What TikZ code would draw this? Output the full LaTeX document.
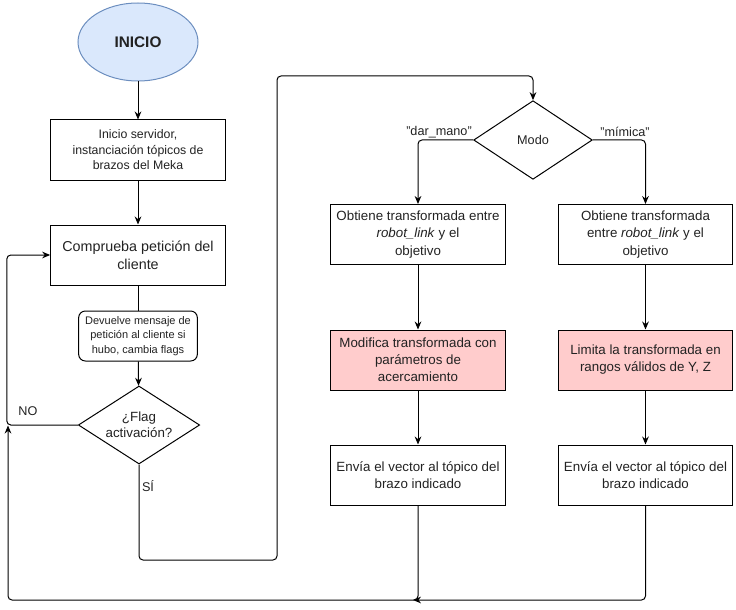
\documentclass[tikz,border=0pt]{standalone}
\usepackage{fontspec}
\setmainfont{Liberation Sans}
\usepackage{xcolor}
\usepackage{tikz}
\usetikzlibrary{arrows.meta,shapes.geometric}
\definecolor{ink}{HTML}{222222}
\definecolor{edge}{HTML}{000000}
\definecolor{startfill}{HTML}{DAE8FC}
\definecolor{startdraw}{HTML}{6C8EBF}
\definecolor{pink}{HTML}{FFCCCC}
\tikzset{
  base/.style={draw=edge, line width=0.75pt, text=ink, align=center, inner sep=1pt},
  box/.style={base, rectangle, minimum width=131pt, minimum height=45pt,
    font=\fontsize{10}{12.8}\selectfont},
  pinkbox/.style={box, fill=pink},
  roundbox/.style={base, rectangle, rounded corners=5pt, minimum width=89pt,
    minimum height=37.5pt, font=\fontsize{8.25}{10.9}\selectfont},
  decision/.style={base, diamond, aspect=1.55, inner xsep=-10pt, inner ysep=0pt},
  startnode/.style={base, ellipse, fill=startfill, draw=startdraw,
    minimum width=90pt, minimum height=58.5pt, font=\fontsize{11.5}{13}\selectfont\bfseries},
  conn/.style={draw=edge, line width=0.75pt, rounded corners=3pt},
  arr/.style={conn, -{Stealth[length=6pt,width=5pt]}},
  lab/.style={text=ink, font=\fontsize{9.5}{11}\selectfont, inner sep=1pt}
}
\begin{document}
\begin{tikzpicture}[x=0.75pt, y=-0.75pt]
  \useasboundingbox (0,0) rectangle (736,610);
  % left column
  \node[startnode] (start) at (138,42) {INICIO};
  \node[box, font=\fontsize{9.25}{11.6}\selectfont] (init) at (138,150)
    {Inicio servidor,\\instanciación tópicos de\\brazos del Meka};
  \node[box, font=\fontsize{10.75}{13.3}\selectfont] (check) at (138,255)
    {Comprueba petición del\\cliente};
  \node[roundbox] (reply) at (138,336)
    {Devuelve mensaje de\\petición al cliente si\\hubo, cambia flags};
  \node[decision, minimum width=91pt, minimum height=58.5pt,
    font=\fontsize{10}{12}\selectfont] (flag) at (139,425) {¿Flag\\activación?};
  % right part
  \node[decision, minimum width=89pt, minimum height=59pt,
    font=\fontsize{9.5}{11}\selectfont] (modo) at (533,140) {Modo};
  \node[box] (L1) at (418,234.5)
    {Obtiene transformada entre\\\textit{robot\_link} y el\\objetivo};
  \node[box] (R1) at (645.5,234.5)
    {Obtiene transformada\\entre \textit{robot\_link} y el\\objetivo};
  \node[pinkbox] (L2) at (418,360)
    {Modifica transformada con\\parámetros de\\acercamiento};
  \node[pinkbox] (R2) at (645.5,360)
    {Limita la transformada en\\rangos válidos de Y, Z};
  \node[box] (L3) at (418,475) {Envía el vector al tópico del\\brazo indicado};
  \node[box] (R3) at (645.5,475) {Envía el vector al tópico del\\brazo indicado};
  % connectors
  \draw[arr] (start) -- (init);
  \draw[arr] (init) -- (check);
  \draw[conn] (check) -- (reply);
  \draw[arr] (reply) -- (flag);
  \draw[arr] (flag.west) -- ++(-71,0) |- (check.west);
  \draw[arr] (flag.south) |- (277,560) |- (533,76) -- (modo.north);
  \draw[arr] (modo.west) -| (L1.north);
  \draw[arr] (modo.east) -| (R1.north);
  \draw[arr] (L1) -- (L2);
  \draw[arr] (L2) -- (L3);
  \draw[arr] (R1) -- (R2);
  \draw[arr] (R2) -- (R3);
  \draw[arr] (L3.south) |- (8,600) -- (8,425.5);
  \draw[arr] (R3.south) |- (413,600);
  % labels
  \node[lab] (no) at (28,411) {NO};
  \node[lab] (si) at (148,486) {SÍ};
  \node[lab] (darmano) at (439,132) {"dar\_mano"};
  \node[lab] (mimica) at (625,132) {"mímica"};
\end{tikzpicture}
\end{document}
